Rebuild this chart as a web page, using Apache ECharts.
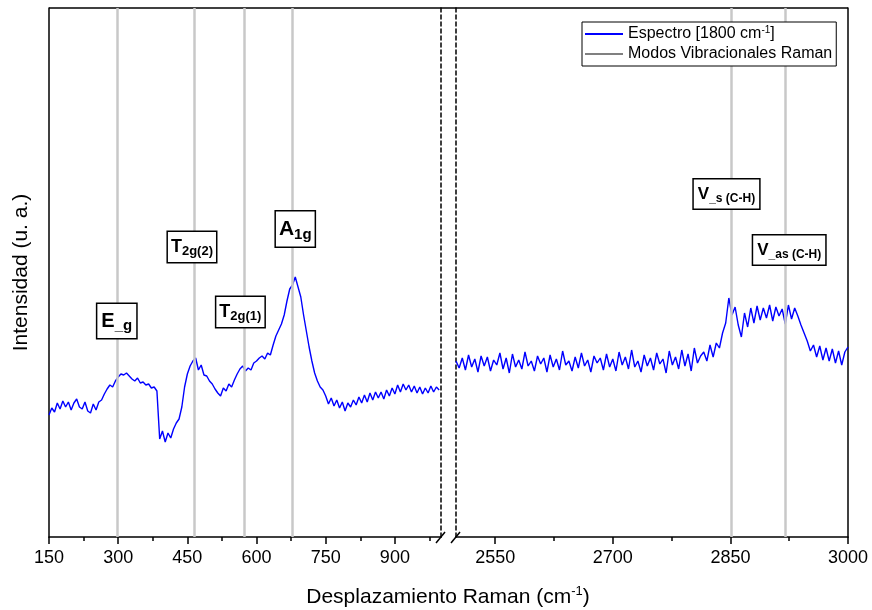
<!DOCTYPE html>
<html><head><meta charset="utf-8">
<script src="https://cdn.jsdelivr.net/npm/echarts@6/dist/echarts.min.js"></script>
<style>html,body{margin:0;padding:0;background:#fff}#c{width:872px;height:610px}</style>
</head><body><div id="c"></div>
<script>
// ---- data ----
const leftStart = 150, leftStep = 6;
const leftIntensity = [
 122,129,125,134,128,136,130,135,127,134,
 138,130,128,135,126,124,133,127,135,137,
 143,148,152,150,156,160,163,162,164,161,
 158,156,159,154,155,152,153,149,150,146,
 98,106,95,104,99,108,114,118,130,150,
 163,171,176,179,167,172,162,161,156,153,
 148,144,141,149,146,153,150,157,163,168,
 171,166,169,167,174,176,179,181,178,184,
 182,192,201,207,213,222,236,248,252,260,
 250,240,222,206,190,176,164,156,150,147,
 141,133,139,131,137,129,135,126,134,130,
 137,132,140,134,142,135,144,137,145,139,
 145,138,147,141,149,143,152,145,153,147,
 152,145,151,144,150,143,149,144,151,145,150,147
];
const rightStart = 2500, rightStep = 4;
const rightIntensity = [
 176,169,179,167,182,170,178,165,181,171,
 180,166,177,172,184,168,179,164,183,170,
 177,168,185,171,176,166,181,173,179,165,
 182,170,178,167,186,172,176,166,180,169,
 184,171,177,165,181,174,179,167,183,170,
 178,166,185,172,180,168,187,170,176,165,
 182,171,179,167,184,173,178,164,186,172,
 180,168,187,171,183,166,189,174,181,185,
 176,192,180,194,189,204,214,239,222,230,
 212,200,224,210,229,214,231,217,229,219,
 232,216,230,221,228,213,232,218,229,221,
 212,204,196,186,192,180,191,177,189,176,
 188,174,186,172,185,190
];
const leftModes = [297, 464, 574, 677];
const rightModes = [2851, 2920];
const leftTicks = [150, 300, 450, 600, 750, 900];
const leftMinorTicks = [225, 375, 525, 675, 825, 975];
const rightTicks = [2550, 2700, 2850, 3000];
const rightMinorTicks = [2625, 2775, 2925];
const leftRange = [150, 1000];
const rightRange = [2500, 3000];
const yRange = [0, 529];
// annotations
const annotMain = ['E', 'T', 'T', 'A', 'V', 'V'];
const annotSub = ['_g', '2g(2)', '2g(1)', '1g', '_s (C-H)', '_as (C-H)'];
const annotX = [297, 460, 565, 684, 2845, 2925];
const annotY = [216, 290, 225, 308, 343, 287];
const annotPanel = [0, 0, 0, 0, 1, 1];
const seriesNames = ['Espectro [1800 cm-1]', 'Modos Vibracionales Raman'];

// ---- chart ----
const FONT = 'Liberation Sans, Arial, sans-serif';
const chart = echarts.init(document.getElementById('c'), null, {renderer: 'canvas'});
const toPairs = (arr, start, step) => arr.map((v, i) => [start + i * step, v]);

const annotStyles = [
  {m: {fontSize: 20, fontWeight: 'bold', lineHeight: 24}, s: {fontSize: 15, fontWeight: 'bold', lineHeight: 14, verticalAlign: 'bottom'}, pad: [5, 4, 5, 4]},
  {m: {fontSize: 18, fontWeight: 'bold', lineHeight: 22}, s: {fontSize: 13, fontWeight: 'bold', lineHeight: 12, verticalAlign: 'bottom'}, pad: [4, 3, 4, 3]},
  {m: {fontSize: 18, fontWeight: 'bold', lineHeight: 22}, s: {fontSize: 13, fontWeight: 'bold', lineHeight: 12, verticalAlign: 'bottom'}, pad: [4, 3, 4, 3]},
  {m: {fontSize: 21, fontWeight: 'bold', lineHeight: 26}, s: {fontSize: 15, fontWeight: 'bold', lineHeight: 14, verticalAlign: 'bottom'}, pad: [5, 3, 4, 3]},
  {m: {fontSize: 17, fontWeight: 'bold', lineHeight: 21}, s: {fontSize: 12, fontWeight: 'bold', lineHeight: 12, verticalAlign: 'bottom'}, pad: [4, 4, 4, 4]},
  {m: {fontSize: 17, fontWeight: 'bold', lineHeight: 21}, s: {fontSize: 12, fontWeight: 'bold', lineHeight: 12, verticalAlign: 'bottom'}, pad: [4, 4, 4, 4]}
];
function annotData(panel) {
  const out = [];
  annotMain.forEach((m, i) => {
    if (annotPanel[i] !== panel) return;
    const st = annotStyles[i];
    out.push({
      coord: [annotX[i], annotY[i]],
      label: {
        formatter: '{m|' + m + '}{s|' + annotSub[i] + '}',
        padding: st.pad,
        rich: {m: Object.assign({color: '#000', fontFamily: FONT}, st.m), s: Object.assign({color: '#000', fontFamily: FONT}, st.s)}
      }
    });
  });
  return out;
}
const markPointBase = (panel) => ({
  symbol: 'rect', symbolSize: 1, silent: true, animation: false,
  itemStyle: {color: 'rgba(0,0,0,0)'},
  label: {show: true, position: 'inside', backgroundColor: '#fff', borderColor: '#000', borderWidth: 1.5},
  data: annotData(panel)
});

const axisLineSolid = {show: true, lineStyle: {color: '#000', width: 1.5}};
const axisLineDashed = {show: true, lineStyle: {color: '#000', width: 1.5, type: [4, 3]}};
const labelStyle = {color: '#000', fontSize: 18, fontFamily: FONT, margin: 12, formatter: (v) => String(v)};

function xMain(gi, range, ticks) {
  return {type: 'value', gridIndex: gi, min: range[0], max: range[1], position: 'bottom',
    axisLine: axisLineSolid,
    axisTick: {show: true, inside: false, length: 7, lineStyle: {color: '#000', width: 1.5}, customValues: ticks},
    axisLabel: Object.assign({show: true, customValues: ticks}, labelStyle),
    splitLine: {show: false}};
}
function xMinor(gi, range, ticks) {
  return {type: 'value', gridIndex: gi, min: range[0], max: range[1], position: 'bottom',
    axisLine: {show: false},
    axisTick: {show: true, inside: false, length: 4, lineStyle: {color: '#000', width: 1.5}, customValues: ticks},
    axisLabel: {show: false}, splitLine: {show: false}};
}
function yAx(gi, pos, line, extra) {
  return Object.assign({type: 'value', gridIndex: gi, min: yRange[0], max: yRange[1], position: pos,
    axisLine: line, axisTick: {show: false}, axisLabel: {show: false}, splitLine: {show: false}}, extra || {});
}

const option = {
  animation: false,
  backgroundColor: '#fff',
  grid: [
    {left: 49, top: 8, width: 392, height: 529},
    {left: 456, top: 8, width: 392, height: 529}
  ],
  xAxis: [
    xMain(0, leftRange, leftTicks),
    xMinor(0, leftRange, leftMinorTicks),
    xMain(1, rightRange, rightTicks),
    xMinor(1, rightRange, rightMinorTicks)
  ],
  yAxis: [
    yAx(0, 'left', axisLineSolid, {name: 'Intensidad (u. a.)', nameLocation: 'middle', nameGap: 17,
      nameTextStyle: {color: '#000', fontSize: 21, fontFamily: FONT}}),
    yAx(0, 'right', axisLineDashed),
    yAx(1, 'left', axisLineDashed),
    yAx(1, 'right', axisLineSolid)
  ],
  legend: {
    left: 582, top: 22, orient: 'vertical', itemWidth: 38, itemHeight: 2, itemGap: 2, icon: 'rect',
    padding: [3, 4, 3, 3], borderColor: '#000', borderWidth: 1, backgroundColor: '#fff', z: 20,
    data: [
      {name: seriesNames[0], itemStyle: {color: '#0000ff'}},
      {name: seriesNames[1], itemStyle: {color: '#808080'}}
    ],
    formatter: (n) => n === seriesNames[0] ? 'Espectro [1800 cm{sup|-1}]' : n,
    textStyle: {color: '#000', fontSize: 16, fontFamily: FONT, lineHeight: 18,
      rich: {sup: {fontSize: 10, lineHeight: 10, verticalAlign: 'top', fontFamily: FONT, color: '#000'}}}
  },
  series: [
    {name: seriesNames[1], type: 'line', xAxisIndex: 0, yAxisIndex: 0, data: [], symbol: 'none', z: 1,
      color: '#808080', lineStyle: {color: '#808080', width: 1.5},
      markLine: {silent: true, symbol: ['none', 'none'], animation: false, label: {show: false},
        lineStyle: {color: '#c8c8c8', width: 2.5, type: 'solid'}, emphasis: {disabled: true},
        data: leftModes.map(v => ({xAxis: v}))}},
    {name: seriesNames[1], type: 'line', xAxisIndex: 2, yAxisIndex: 2, data: [], symbol: 'none', z: 1,
      color: '#808080', lineStyle: {color: '#808080', width: 1.5},
      markLine: {silent: true, symbol: ['none', 'none'], animation: false, label: {show: false},
        lineStyle: {color: '#c8c8c8', width: 2.5, type: 'solid'}, emphasis: {disabled: true},
        data: rightModes.map(v => ({xAxis: v}))}},
    {name: seriesNames[0], type: 'line', xAxisIndex: 0, yAxisIndex: 0, symbol: 'none', z: 3,
      color: '#0000ff', lineStyle: {color: '#0000ff', width: 1.4},
      data: toPairs(leftIntensity, leftStart, leftStep), markPoint: markPointBase(0)},
    {name: seriesNames[0], type: 'line', xAxisIndex: 2, yAxisIndex: 2, symbol: 'none', z: 3,
      color: '#0000ff', lineStyle: {color: '#0000ff', width: 1.4},
      data: toPairs(rightIntensity, rightStart, rightStep), markPoint: markPointBase(1)}
  ],
  graphic: [
    {type: 'line', shape: {x1: 49, y1: 8, x2: 848, y2: 8}, style: {stroke: '#000', lineWidth: 1.5}, silent: true},
    {type: 'rect', shape: {x: 442, y: 530, width: 13, height: 14}, style: {fill: '#fff'}, silent: true, z: 10},
    {type: 'line', shape: {x1: 436, y1: 543, x2: 445, y2: 532}, style: {stroke: '#000', lineWidth: 1.5}, silent: true, z: 11},
    {type: 'line', shape: {x1: 451, y1: 543, x2: 460, y2: 532}, style: {stroke: '#000', lineWidth: 1.5}, silent: true, z: 11},
    {type: 'text', x: 448, y: 597, silent: true,
      style: {text: '{n|Desplazamiento Raman (cm}{sup|-1}{n|)}', align: 'center', verticalAlign: 'middle',
        rich: {n: {fontSize: 21, fontFamily: FONT, color: '#000', lineHeight: 24},
               sup: {fontSize: 13, fontFamily: FONT, color: '#000', lineHeight: 12, verticalAlign: 'top'}}}}
  ]
};
chart.setOption(option);
</script>
</body></html>
